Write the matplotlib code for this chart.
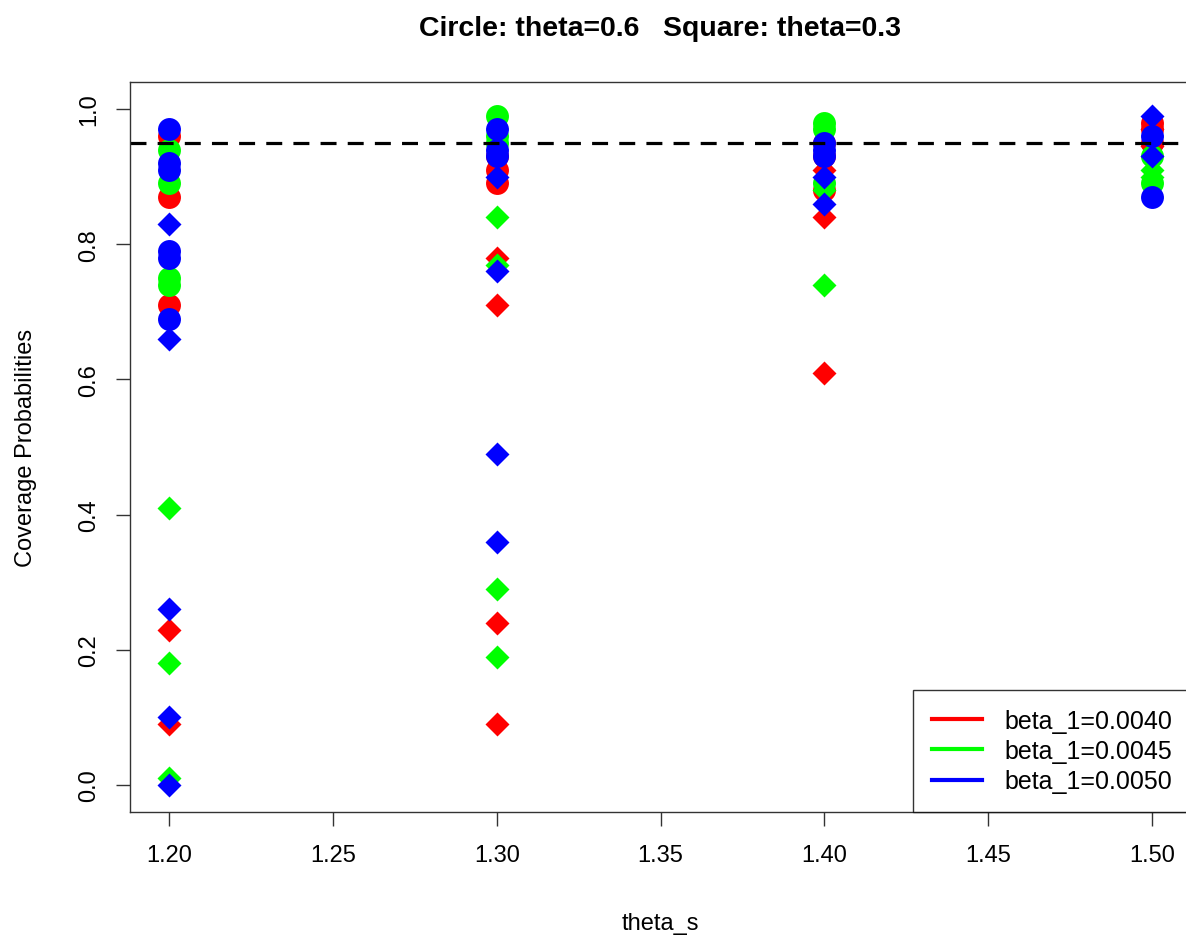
import matplotlib
matplotlib.use("Agg")
import matplotlib.pyplot as plt
from matplotlib.lines import Line2D

plt.rcParams['font.family'] = ['Liberation Sans', 'DejaVu Sans']

theta_s = [1.20, 1.30, 1.40, 1.50]

# coverage probabilities per theta_s value; circles are theta=0.6, diamonds theta=0.3
red_circle = [[0.96, 0.87, 0.71], [0.93, 0.91, 0.89], [0.95, 0.93, 0.88], [0.98, 0.97, 0.95]]
red_diamond = [[0.23, 0.09], [0.78, 0.71, 0.24, 0.09], [0.91, 0.84, 0.61], [0.97, 0.945]]
green_circle = [[0.94, 0.89, 0.75, 0.74], [0.99, 0.96, 0.95], [0.98, 0.97, 0.89], [0.93, 0.89]]
green_diamond = [[0.41, 0.18, 0.01], [0.84, 0.77, 0.29, 0.19], [0.88, 0.74], [0.91, 0.90]]
blue_circle = [[0.97, 0.92, 0.91, 0.79, 0.78, 0.69], [0.97, 0.94, 0.93], [0.95, 0.94, 0.93], [0.96, 0.87]]
blue_diamond = [[0.83, 0.66, 0.26, 0.10, 0.00], [0.90, 0.76, 0.49, 0.36], [0.90, 0.86], [0.99, 0.93]]

labels = ['beta_1=0.0040', 'beta_1=0.0045', 'beta_1=0.0050']
colors = ['#FF0000', '#00FF00', '#0000FF']
nominal = 0.95


def flat(groups):
    xs, ys = [], []
    for x, vals in zip(theta_s, groups):
        xs += [x] * len(vals)
        ys += vals
    return xs, ys


fig = plt.figure(figsize=(11.86, 9.37), dpi=100)
ax = fig.add_axes([0.1094, 0.1323, 0.8951, 0.7791])

series = [(red_circle, red_diamond), (green_circle, green_diamond), (blue_circle, blue_diamond)]
for (circ, diam), col in zip(series, colors):
    x, y = flat(circ)
    ax.plot(x, y, 'o', color=col, ms=16.5, mec='none')
    x, y = flat(diam)
    ax.plot(x, y, 'D', color=col, ms=12, mec='none')

ax.axhline(nominal, color='black', lw=2.3, dashes=(5, 3.5))

xt = [1.20, 1.25, 1.30, 1.35, 1.40, 1.45, 1.50]
ax.set_xlim(1.188, 1.512)
ax.set_ylim(-0.04, 1.04)
ax.set_xticks(xt)
ax.set_xticklabels(['%.2f' % t for t in xt])
ax.set_yticks([0.0, 0.2, 0.4, 0.6, 0.8, 1.0])
ax.set_yticklabels(['0.0', '0.2', '0.4', '0.6', '0.8', '1.0'], rotation=90, va='center')
ax.tick_params(axis='both', labelsize=17, length=10, width=1, color='#333333')
ax.tick_params(axis='x', pad=13)
ax.tick_params(axis='y', pad=11)
for s in ax.spines.values():
    s.set_linewidth(1)
    s.set_color('#333333')

ax.set_xlabel('theta_s', fontsize=17, labelpad=33)
ax.set_ylabel('Coverage Probabilities', fontsize=17, labelpad=30)
fig.text(0.5565, 0.969, 'Circle: theta=0.6   Square: theta=0.3', fontsize=20.5,
         fontweight='bold', ha='center', va='center')

handles = [Line2D([0], [0], color=c, lw=3) for c in colors]
leg = ax.legend(handles, labels, loc='lower right', fontsize=18, frameon=True, fancybox=False,
                edgecolor='black', borderaxespad=0, handlelength=2.0, handletextpad=0.9,
                labelspacing=0.25, borderpad=0.75)
leg.get_frame().set_linewidth(1)

fig.savefig('out.png', dpi=100)
